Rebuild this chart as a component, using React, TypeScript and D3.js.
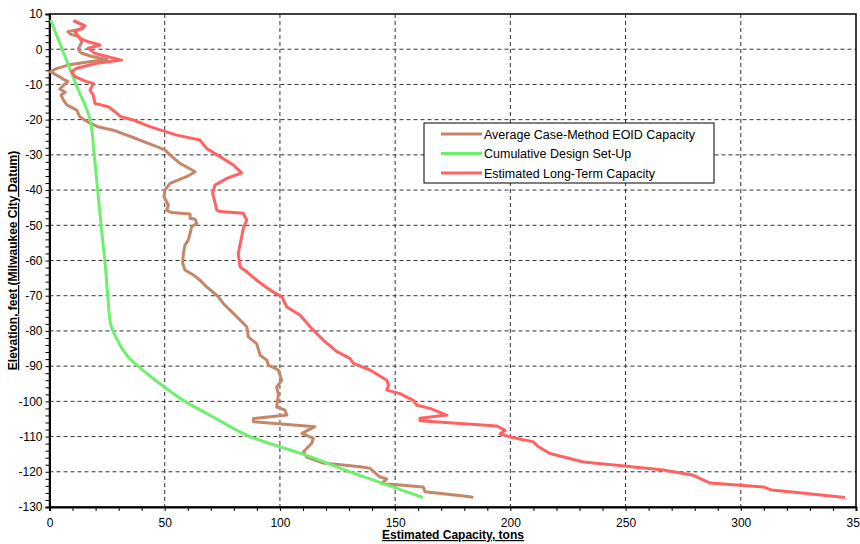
import React, { useEffect, useRef } from 'react'
import * as d3 from 'd3'

// elevation (ft) / capacity (tons) pairs
const eoidElev = [8, 6.8, 5.8, 5, 4.3, 3.5, 2, 0.8, 0, -1, -2, -2.9, -3.5, -4.5, -5.5, -6.4, -7.5, -8.5, -9.2, -10, -11.3, -12.2, -13, -14.4, -15.8, -17.3, -19.2, -20, -21, -22, -23, -25, -27, -28.6, -30, -32.4, -34.8, -36.2, -38.1, -40, -41.9, -44.3, -45.7, -46.4, -46.8, -48, -48.3, -49.5, -50.4, -52.3, -54.2, -55.6, -58, -60.8, -62.7, -64.1, -65.6, -67.5, -70.3, -72.2, -75, -78.8, -81.7, -83.6, -86.9, -88.3, -89.7, -91.1, -94, -95.9, -98.2, -101.6, -102.5, -103.9, -104.9, -105.8, -107.2, -109.1, -110.5, -111.9, -114.3, -115.8, -117.5, -118.6, -119, -121.5, -122, -123.3, -124.3, -125.7, -127.1, -127.3]
const eoidCap = [11, 15, 14.5, 8, 9, 13, 14, 13, 12.5, 13.5, 18, 25, 18, 8, 3, 0.3, 3.5, 6, 8, 6.5, 4.5, 6.8, 5, 6, 7.5, 11.8, 13.2, 15, 17.6, 21, 27.7, 36, 44, 50.1, 52.3, 56.6, 63.2, 59.5, 52.3, 50.1, 49.7, 51.6, 50.8, 53, 61, 61, 63.2, 63.9, 61.7, 61, 60.2, 58.8, 58.1, 57.8, 58.8, 62.4, 65.3, 68.2, 73.3, 75.4, 79.8, 85.6, 86.3, 89.9, 91.4, 94.3, 95, 99.3, 100.8, 98.6, 99.3, 98.6, 102.2, 103, 88.5, 88.5, 115.2, 109.5, 114.5, 113.8, 110.2, 111.6, 118.8, 134.8, 139.1, 143.4, 146.4, 144.2, 162.2, 163, 182.5, 183.9]

const setupElev = [8.3, 0, -10, -20, -30, -40, -50, -60, -70, -78, -80, -82, -85, -88, -90, -93, -96, -100, -105, -110, -115, -120, -125, -127.3]
const setupCap = [0.5, 5.5, 11.5, 17.6, 19.4, 20.9, 22.4, 24, 25.3, 26.5, 27.5, 29, 31.5, 35, 38.5, 44, 50, 58.8, 72.6, 87, 110, 130.4, 152, 162]

const longElev = [8.1, 6.6, 5, 3.1, 2.1, 1.2, 0.3, -1.2, -3.1, -4, -5.4, -6.4, -7.8, -9.2, -9.7, -11.6, -13, -15.4, -16.3, -18.2, -19.2, -20.1, -22, -24.4, -25.8, -28.2, -30.5, -32.9, -35.1, -36.7, -38.6, -40.9, -45.7, -46.1, -46.6, -48.5, -50.9, -53.3, -58, -61.8, -63.2, -65.6, -68.4, -70.3, -73.2, -75.5, -78.8, -82.6, -85.9, -87.8, -89.2, -91.1, -94, -95.4, -96.8, -97.8, -99.7, -101.1, -102, -103.9, -104.8, -105.5, -107, -108.2, -109.3, -110.1, -111.5, -112.9, -114.8, -117.2, -118.4, -119.5, -121, -123.2, -123.8, -124.3, -125.2, -125.9, -127.3]
const longCap = [10.3, 15.4, 11, 13.2, 16.8, 21.9, 16.8, 19.7, 31.3, 20.5, 11.8, 9.6, 11.1, 16.1, 19, 17.6, 19, 19.7, 25.5, 29.2, 31, 36.4, 43.6, 55.2, 65.3, 68.2, 74, 79.8, 83.4, 76.9, 71.8, 70.8, 72.6, 74, 84.1, 85.6, 84.1, 83.4, 81.9, 82.7, 85.6, 89.9, 95.7, 100.8, 103, 108.7, 113.1, 118.8, 124.7, 130.4, 131.9, 139.1, 146.4, 147.1, 146.4, 152.1, 157.9, 159.4, 165.1, 172.4, 160.8, 160.8, 194.1, 197.7, 195.5, 199.9, 210, 212.2, 217.2, 231.7, 250.5, 266.4, 279.4, 286.7, 299.7, 309.8, 313.4, 324.3, 345.3]

const xTicks = [0, 50, 100, 150, 200, 250, 300, 350]
const yTicks = [10, 0, -10, -20, -30, -40, -50, -60, -70, -80, -90, -100, -110, -120, -130]

const seriesNames = ['Average Case-Method EOID Capacity', 'Cumulative Design Set-Up', 'Estimated Long-Term Capacity']
const seriesColors = ['#c4876a', '#6ef06e', '#ff6262']

const font = 'Liberation Sans, Arial, sans-serif'

function Chart() {
    const ref = useRef<SVGSVGElement>(null)

    useEffect(() => {
        const svg = d3.select(ref.current)
        svg.selectAll('*').remove()

        const left = 49.5, right = 856, top = 14, bottom = 507
        const x = d3.scaleLinear().domain([0, 350]).range([left, right])
        const y = d3.scaleLinear().domain([10, -130]).range([top, bottom])

        // grid
        const grid = svg.append('g')
            .attr('stroke', '#333')
            .attr('stroke-width', 1)
            .attr('stroke-dasharray', '4,3')
        grid.selectAll('line.gx')
            .data(xTicks.slice(1, -1)).enter()
            .append('line')
            .attr('x1', d => x(d)).attr('x2', d => x(d))
            .attr('y1', top).attr('y2', bottom)
        grid.selectAll('line.gy')
            .data(yTicks.slice(1, -1)).enter()
            .append('line')
            .attr('class', 'gy')
            .attr('x1', left).attr('x2', right)
            .attr('y1', d => y(d)).attr('y2', d => y(d))

        // frame
        svg.append('rect')
            .attr('x', left).attr('y', top)
            .attr('width', right - left).attr('height', bottom - top)
            .attr('fill', 'none').attr('stroke', '#000').attr('stroke-width', 1.5)

        // axes with minor ticks
        const yAxis = d3.axisLeft(y)
            .tickValues(d3.range(-130, 10.1, 2))
            .tickSize(4)
            .tickFormat(d => (yTicks.includes(+d) ? String(d) : ''))
        const gy = svg.append('g').attr('transform', `translate(${left},0)`).call(yAxis)
        gy.select('.domain').attr('stroke-width', 2)
        gy.selectAll('text').attr('font-size', 12).attr('font-family', font).attr('fill', '#000').attr('x', -7)

        const xAxis = d3.axisBottom(x)
            .tickValues(d3.range(0, 350.1, 10))
            .tickSize(4)
            .tickFormat(d => (xTicks.includes(+d) ? String(d) : ''))
        const gx = svg.append('g').attr('transform', `translate(0,${bottom})`).call(xAxis)
        gx.select('.domain').attr('stroke-width', 2)
        gx.selectAll('text').attr('font-size', 12).attr('font-family', font).attr('fill', '#000').attr('y', 11)

        // series
        const line = d3.line<[number, number]>()
            .x(d => x(d[1]))
            .y(d => y(d[0]))
        const smooth = d3.line<[number, number]>()
            .x(d => x(d[1]))
            .y(d => y(d[0]))
            .curve(d3.curveMonotoneY)
        const series: [number, number][][] = [
            eoidElev.map((e, i) => [e, eoidCap[i]]),
            setupElev.map((e, i) => [e, setupCap[i]]),
            longElev.map((e, i) => [e, longCap[i]]),
        ]
        series.forEach((pts, i) => {
            svg.append('path')
                .attr('d', i === 1 ? smooth(pts) : line(pts))
                .attr('fill', 'none')
                .attr('stroke', seriesColors[i])
                .attr('stroke-width', 3)
                .attr('stroke-linejoin', 'round')
        })

        // legend
        const lg = svg.append('g')
        lg.append('rect')
            .attr('x', 424).attr('y', 123).attr('width', 290).attr('height', 60)
            .attr('fill', '#fff').attr('stroke', '#000').attr('stroke-width', 1)
        seriesNames.forEach((name, i) => {
            const ly = 134 + i * 19.5
            lg.append('line')
                .attr('x1', 441).attr('x2', 482).attr('y1', ly).attr('y2', ly)
                .attr('stroke', seriesColors[i]).attr('stroke-width', 3)
            lg.append('text')
                .attr('x', 484).attr('y', ly + 4.5)
                .attr('font-size', 12.5).attr('font-family', font)
                .text(name)
        })

        // axis titles
        svg.append('text')
            .attr('transform', `translate(17,${(top + bottom) / 2}) rotate(-90)`)
            .attr('text-anchor', 'middle')
            .attr('font-size', 12).attr('font-weight', 'bold').attr('font-family', font)
            .style('text-decoration', 'underline')
            .text('Elevation, feet (Milwaukee City Datum)')
        svg.append('text')
            .attr('x', 453).attr('y', 539)
            .attr('text-anchor', 'middle')
            .attr('font-size', 12).attr('font-weight', 'bold').attr('font-family', font)
            .style('text-decoration', 'underline')
            .text('Estimated Capacity, tons')
    }, [])

    return <svg ref={ref} width={860} height={544} style={{ display: 'block', background: '#fff' }}></svg>
}

export default function App() {
    return (
        <div style={{ position: 'absolute', left: 0, top: 0 }}>
            <Chart />
        </div>
    )
}
